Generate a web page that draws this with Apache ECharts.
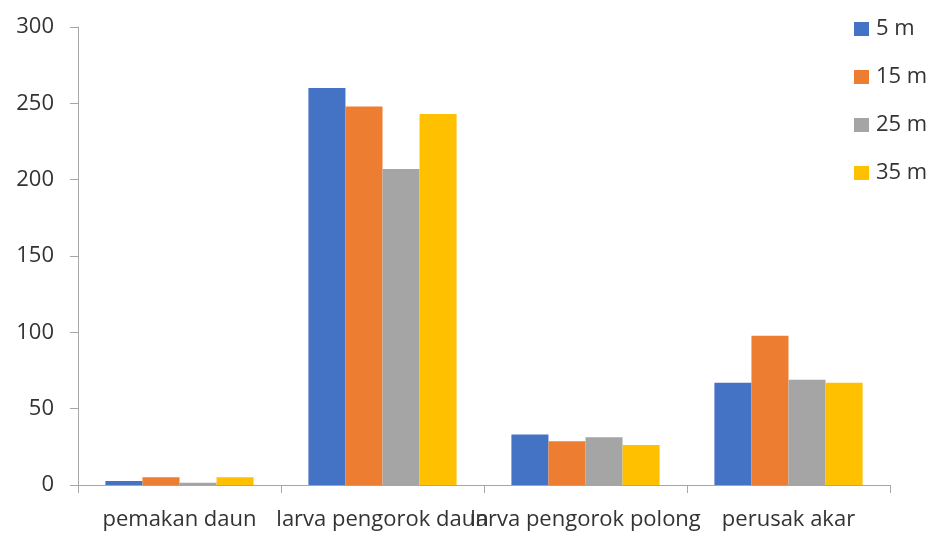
<!DOCTYPE html>
<html>
<head>
<meta charset="utf-8">
<script src="https://cdn.jsdelivr.net/npm/echarts@6/dist/echarts.min.js"></script>
<style>
  html, body { margin: 0; padding: 0; background: #fff; }
  #chart { width: 931px; height: 534px; }
</style>
</head>
<body>
<div id="chart"></div>
<script>
// Pest groups counted at each distance
const categories = ['pemakan daun', 'larva pengorok daun', 'larva pengorok polong', 'perusak akar'];
const seriesNames = ['5 m', '15 m', '25 m', '35 m'];
const values5m  = [2.6, 260, 33, 67];
const values15m = [5, 248, 28.6, 97.8];
const values25m = [1.5, 207, 31.2, 69];
const values35m = [5, 243, 26.2, 67];
const colors = ['#4472C4', '#ED7D31', '#A5A5A5', '#FFC000'];
const yTicks = { min: 0, max: 300, interval: 50 };

const allValues = [values5m, values15m, values25m, values35m];
const font = 'Open Sans';
const textColor = '#333';
const axisColor = '#a6a6a6';

const chart = echarts.init(document.getElementById('chart'), null, { renderer: 'canvas' });
chart.setOption({
  animation: false,
  textStyle: { fontFamily: font },
  grid: { left: 78, right: 41, top: 27, bottom: 49 },
  legend: {
    orient: 'vertical',
    left: 849,
    top: 13,
    itemWidth: 15,
    itemHeight: 14,
    itemGap: 26,
    icon: 'rect',
    textStyle: { fontSize: 22, color: textColor, fontFamily: font, padding: [0, 0, 0, 2] },
    data: seriesNames
  },
  xAxis: {
    type: 'category',
    data: categories,
    axisLine: { lineStyle: { color: axisColor, width: 1 } },
    axisTick: { show: true, length: 8, alignWithLabel: false, lineStyle: { color: axisColor } },
    axisLabel: { interval: 0, margin: 24, fontSize: 22, color: textColor, fontFamily: font, hideOverlap: false }
  },
  yAxis: {
    type: 'value',
    min: yTicks.min,
    max: yTicks.max,
    interval: yTicks.interval,
    axisLine: { show: true, lineStyle: { color: axisColor, width: 1 } },
    axisTick: { show: true, length: 8, lineStyle: { color: axisColor } },
    splitLine: { show: false },
    axisLabel: { margin: 24, fontSize: 22, color: textColor, fontFamily: font }
  },
  series: seriesNames.map((name, i) => ({
    name: name,
    type: 'bar',
    data: allValues[i],
    barGap: '0%',
    barCategoryGap: '27%',
    itemStyle: { color: colors[i] }
  }))
});
</script>
</body>
</html>
